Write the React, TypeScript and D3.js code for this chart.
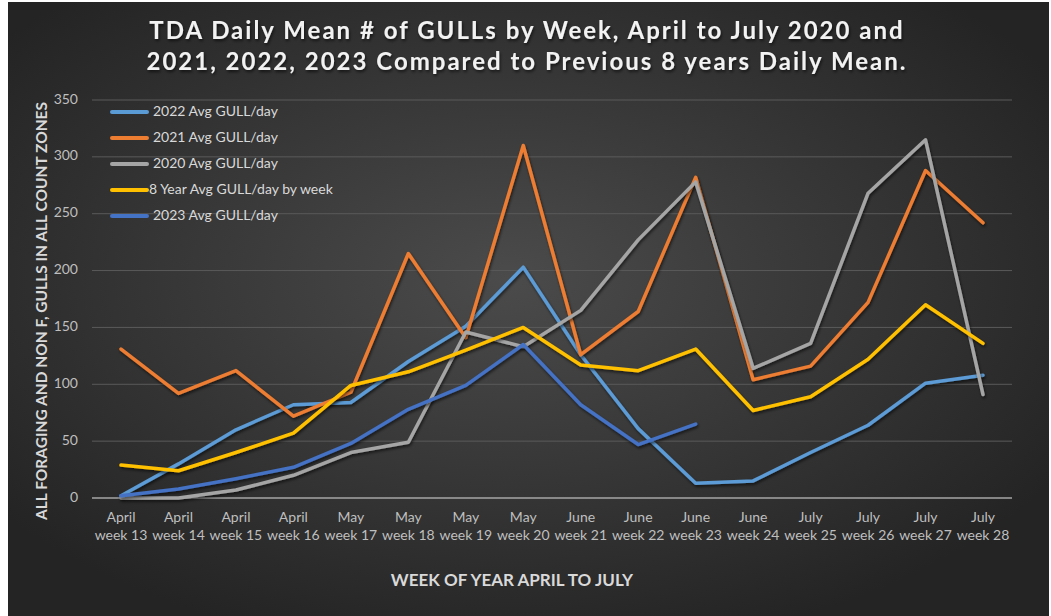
import { useEffect, useRef } from "react"
import * as d3 from "d3"

const weeks = [
  "week 13", "week 14", "week 15", "week 16", "week 17", "week 18", "week 19", "week 20",
  "week 21", "week 22", "week 23", "week 24", "week 25", "week 26", "week 27", "week 28",
]
const months = [
  "April", "April", "April", "April", "May", "May", "May", "May",
  "June", "June", "June", "June", "July", "July", "July", "July",
]
const yTicks = [0, 50, 100, 150, 200, 250, 300, 350]

const gull2022 = [2, 30, 60, 82, 84, 120, 151, 203, 126, 61, 13, 15, 40, 64, 101, 108]
const gull2021 = [131, 92, 112, 72, 93, 215, 141, 310, 126, 164, 282, 104, 116, 172, 288, 242]
const gull2020 = [0, 0, 7, 20, 40, 49, 146, 133, 165, 227, 278, 114, 136, 268, 315, 91]
const gull8yr = [29, 24, 40, 57, 99, 111, 130, 150, 117, 112, 131, 77, 89, 122, 170, 136]
const gull2023 = [2, 8, 17, 27, 48, 78, 99, 135, 82, 47, 65]

const series = [
  { label: "2022 Avg GULL/day", values: gull2022, color: "#5b9bd5" },
  { label: "2021 Avg GULL/day", values: gull2021, color: "#ed7d31" },
  { label: "2020 Avg GULL/day", values: gull2020, color: "#a5a5a5" },
  { label: "8 Year Avg GULL/day by week", values: gull8yr, color: "#ffc000" },
  { label: "2023 Avg GULL/day", values: gull2023, color: "#4472c4" },
]

export default function App() {
  const svgRef = useRef<SVGSVGElement>(null)

  useEffect(() => {
    if (!svgRef.current) return
    const svg = d3.select(svgRef.current)
    svg.selectAll("*").remove()

    const width = 1051
    const height = 616
    const font = "Lato, 'Open Sans', sans-serif"

    // background
    const defs = svg.append("defs")
    const grad = defs.append("radialGradient")
      .attr("id", "bg")
      .attr("cx", "48%").attr("cy", "45%").attr("r", "62%")
    grad.append("stop").attr("offset", "0%").attr("stop-color", "#4b4b4b")
    grad.append("stop").attr("offset", "100%").attr("stop-color", "#242424")

    const shadow = defs.append("filter").attr("id", "shadow")
      .attr("x", "-10%").attr("y", "-10%").attr("width", "120%").attr("height", "130%")
    shadow.append("feDropShadow")
      .attr("dx", 1).attr("dy", 2).attr("stdDeviation", 1.5)
      .attr("flood-color", "#000").attr("flood-opacity", 0.6)

    svg.append("rect").attr("width", width).attr("height", height).attr("fill", "#fff")
    svg.append("rect")
      .attr("x", 8).attr("y", 2)
      .attr("width", 1041).attr("height", 614)
      .attr("fill", "url(#bg)")

    // scales
    const x = d3.scalePoint<number>()
      .domain(d3.range(weeks.length))
      .range([121, 983])
    const y = d3.scaleLinear().domain([0, 350]).range([498, 100])

    // gridlines + y labels
    yTicks.forEach((t) => {
      svg.append("line")
        .attr("x1", 92).attr("x2", 1012)
        .attr("y1", y(t)).attr("y2", y(t))
        .style("stroke", t === 0 ? "#a6a6a6" : "#5a5a5a")
        .style("stroke-width", t === 0 ? 1.5 : 1)
      svg.append("text")
        .attr("x", 78).attr("y", y(t))
        .attr("text-anchor", "end")
        .attr("dominant-baseline", "middle")
        .style("font-family", font)
        .style("font-size", "14px")
        .style("fill", "#bfbfbf")
        .text(t)
    })

    // x labels
    weeks.forEach((w, i) => {
      const t = svg.append("text")
        .attr("x", x(i)!)
        .attr("text-anchor", "middle")
        .style("font-family", font)
        .style("font-size", "14px")
        .style("fill", "#bfbfbf")
      t.append("tspan").attr("x", x(i)!).attr("y", 522).text(months[i])
      t.append("tspan").attr("x", x(i)!).attr("y", 540).text(w)
    })

    // lines
    const line = d3.line<number>()
      .x((_, i) => x(i)!)
      .y((d) => y(d))

    series.forEach((s) => {
      svg.append("path")
        .datum(s.values)
        .attr("d", line)
        .style("fill", "none")
        .style("stroke", s.color)
        .style("stroke-width", 3.5)
        .style("stroke-linejoin", "round")
        .style("stroke-linecap", "round")
        .attr("filter", "url(#shadow)")
    })

    // legend
    series.forEach((s, i) => {
      const ly = 112 + i * 26
      svg.append("line")
        .attr("x1", 112).attr("x2", 147)
        .attr("y1", ly).attr("y2", ly)
        .style("stroke", s.color)
        .style("stroke-width", 4)
        .style("stroke-linecap", "round")
      svg.append("text")
        .attr("x", i === 3 ? 149 : 153).attr("y", ly)
        .attr("dominant-baseline", "middle")
        .style("font-family", font)
        .style("font-size", "14px")
        .style("fill", "#d9d9d9")
        .text(s.label)
    })

    // title
    const title = svg.append("text")
      .attr("text-anchor", "middle")
      .style("font-family", font)
      .style("font-size", "24px")
      .style("font-weight", "bold")
      .style("letter-spacing", "2px")
      .style("fill", "#f2f2f2")
      .attr("filter", "url(#shadow)")
    title.append("tspan").attr("x", 527).attr("y", 39)
      .text("TDA Daily Mean # of GULLs by Week, April to July 2020 and")
    title.append("tspan").attr("x", 527).attr("y", 70)
      .text("2021, 2022, 2023 Compared to Previous 8 years Daily Mean.")

    // axis titles
    svg.append("text")
      .attr("transform", "translate(43, 311) rotate(-90)")
      .attr("text-anchor", "middle")
      .attr("dominant-baseline", "middle")
      .style("font-family", font)
      .style("font-size", "15.5px")
      .style("font-weight", "bold")
      .style("fill", "#d9d9d9")
      .text("ALL FORAGING AND NON F, GULLS IN ALL COUNT ZONES")

    svg.append("text")
      .attr("x", 512).attr("y", 586)
      .attr("text-anchor", "middle")
      .style("font-family", font)
      .style("font-size", "17px")
      .style("font-weight", "bold")
      .style("fill", "#d9d9d9")
      .text("WEEK OF YEAR APRIL TO JULY")
  }, [])

  return (
    <svg
      ref={svgRef}
      width={1051}
      height={616}
      style={{ position: "fixed", left: 0, top: 0 }}
    />
  )
}
